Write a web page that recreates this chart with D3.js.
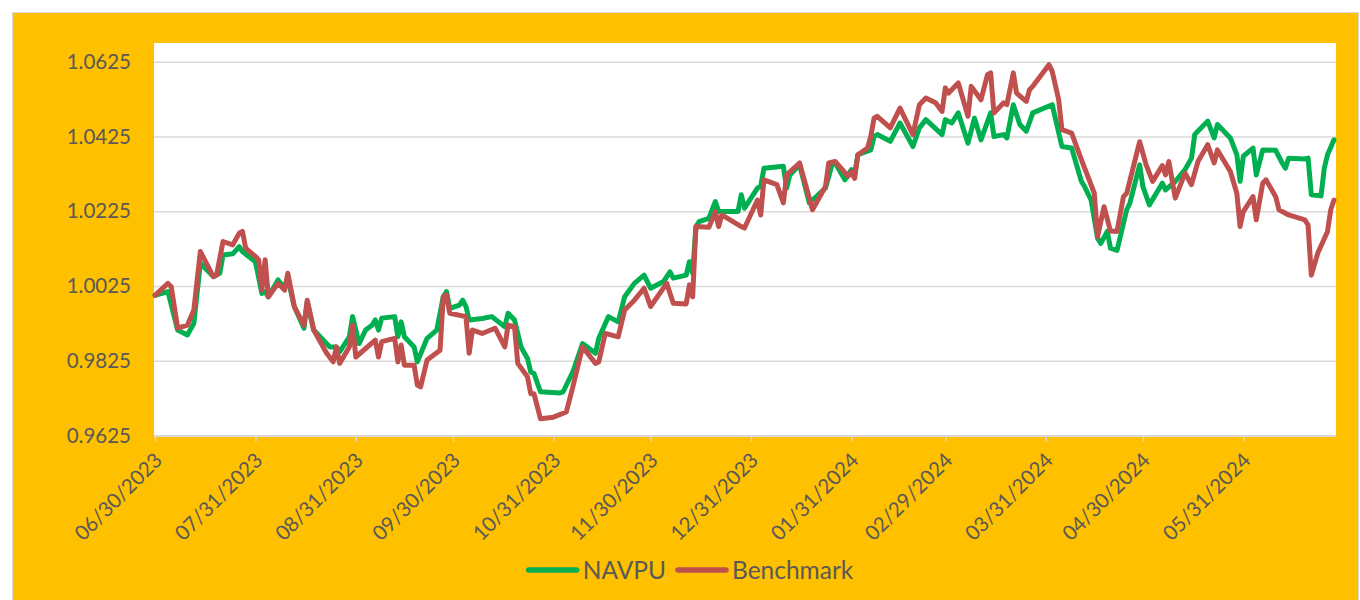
<!DOCTYPE html>
<html lang="en">

<head>
    <meta charset="UTF-8" />
    <script src="https://d3js.org/d3.v7.min.js"></script>
    <title>NAVPU vs Benchmark</title>
    <style>
        body {
            margin: 0;
            background: #fff;
        }

        svg {
            display: block;
            font-family: Lato, "Open Sans", sans-serif;
        }
    </style>
</head>

<body>
    <svg width="1360" height="600"></svg>
</body>
<script>
    // tick labels
    const xTickLabels = ["06/30/2023", "07/31/2023", "08/31/2023", "09/30/2023", "10/31/2023", "11/30/2023",
        "12/31/2023", "01/31/2024", "02/29/2024", "03/31/2024", "04/30/2024", "05/31/2024"]
    const yTicks = [0.9625, 0.9825, 1.0025, 1.0225, 1.0425, 1.0625]

    // NAVPU
    const navDates = [
        "2023-06-30", "2023-07-04", "2023-07-07", "2023-07-10", "2023-07-12", "2023-07-14", "2023-07-18", "2023-07-20", "2023-07-21", "2023-07-24", "2023-07-26", "2023-07-27", "2023-07-31",
        "2023-08-02", "2023-08-03", "2023-08-04", "2023-08-07", "2023-08-09", "2023-08-10", "2023-08-12", "2023-08-15", "2023-08-16", "2023-08-18", "2023-08-23", "2023-08-25", "2023-08-26", "2023-08-29", "2023-08-30",
        "2023-09-01", "2023-09-03", "2023-09-05", "2023-09-06", "2023-09-07", "2023-09-08", "2023-09-12", "2023-09-13", "2023-09-14", "2023-09-15", "2023-09-18", "2023-09-19", "2023-09-22", "2023-09-25", "2023-09-27", "2023-09-28", "2023-09-29",
        "2023-10-02", "2023-10-03", "2023-10-04", "2023-10-05", "2023-10-09", "2023-10-12", "2023-10-16", "2023-10-17", "2023-10-19", "2023-10-21", "2023-10-23", "2023-10-24", "2023-10-25", "2023-10-27",
        "2023-11-02", "2023-11-03", "2023-11-06", "2023-11-09", "2023-11-13", "2023-11-14", "2023-11-17", "2023-11-20", "2023-11-22", "2023-11-25", "2023-11-28", "2023-11-30",
        "2023-12-04", "2023-12-06", "2023-12-07", "2023-12-11", "2023-12-12", "2023-12-13", "2023-12-14", "2023-12-15", "2023-12-18", "2023-12-20", "2023-12-21", "2023-12-27", "2023-12-28", "2023-12-29",
        "2024-01-02", "2024-01-03", "2024-01-04", "2024-01-10", "2024-01-11", "2024-01-12", "2024-01-15", "2024-01-18", "2024-01-23", "2024-01-25", "2024-01-26", "2024-01-29", "2024-01-31",
        "2024-02-01", "2024-02-02", "2024-02-06", "2024-02-07", "2024-02-08", "2024-02-12", "2024-02-15", "2024-02-19", "2024-02-21", "2024-02-23", "2024-02-28", "2024-02-29",
        "2024-03-02", "2024-03-04", "2024-03-07", "2024-03-09", "2024-03-11", "2024-03-14", "2024-03-15", "2024-03-18", "2024-03-19", "2024-03-21", "2024-03-23", "2024-03-25", "2024-03-27",
        "2024-04-02", "2024-04-05", "2024-04-08", "2024-04-11", "2024-04-12", "2024-04-14", "2024-04-16", "2024-04-17", "2024-04-19", "2024-04-20", "2024-04-22", "2024-04-25", "2024-04-26", "2024-04-29", "2024-04-30",
        "2024-05-02", "2024-05-06", "2024-05-07", "2024-05-10", "2024-05-13", "2024-05-15", "2024-05-16", "2024-05-20", "2024-05-22", "2024-05-23", "2024-05-27", "2024-05-29", "2024-05-30", "2024-05-31",
        "2024-06-03", "2024-06-04", "2024-06-06", "2024-06-10", "2024-06-12", "2024-06-13", "2024-06-14", "2024-06-19", "2024-06-20", "2024-06-21", "2024-06-24", "2024-06-25", "2024-06-26", "2024-06-28"
    ]
    const navValues = [
        1.0000, 1.0010, 0.9907, 0.9894, 0.9925, 1.0086, 1.0050, 1.0059, 1.0108, 1.0111, 1.0130, 1.0117, 1.0090,
        1.0005, 1.0010, 0.9996, 1.0041, 1.0019, 1.0046, 0.9970, 0.9912, 0.9983, 0.9907, 0.9862, 0.9862, 0.9849, 0.9889, 0.9943,
        0.9871, 0.9907, 0.9920, 0.9934, 0.9907, 0.9939, 0.9943, 0.9889, 0.9929, 0.9889, 0.9862, 0.9822, 0.9885, 0.9907, 0.9996, 1.0010, 0.9965,
        0.9974, 0.9987, 0.9970, 0.9934, 0.9938, 0.9943, 0.9916, 0.9952, 0.9934, 0.9862, 0.9831, 0.9795, 0.9791, 0.9742,
        0.9739, 0.9742, 0.9795, 0.9871, 0.9845, 0.9885, 0.9943, 0.9929, 0.9996, 1.0032, 1.0054, 1.0019,
        1.0037, 1.0063, 1.0046, 1.0054, 1.0090, 1.0059, 1.0184, 1.0197, 1.0206, 1.0251, 1.0224, 1.0224, 1.0269, 1.0233,
        1.0287, 1.0291, 1.0340, 1.0345, 1.0287, 1.0322, 1.0349, 1.0247, 1.0287, 1.0349, 1.0354, 1.0309, 1.0336,
        1.0322, 1.0376, 1.0389, 1.0425, 1.0430, 1.0412, 1.0461, 1.0398, 1.0448, 1.0470, 1.0430, 1.0470,
        1.0461, 1.0488, 1.0407, 1.0474, 1.0416, 1.0488, 1.0425, 1.0430, 1.0421, 1.0510, 1.0457, 1.0439, 1.0488,
        1.0510, 1.0398, 1.0394, 1.0305, 1.0291, 1.0255, 1.0153, 1.0139, 1.0171, 1.0126, 1.0120, 1.0229, 1.0247, 1.0349, 1.0291,
        1.0242, 1.0300, 1.0282, 1.0305, 1.0336, 1.0367, 1.0430, 1.0466, 1.0421, 1.0457, 1.0421, 1.0376, 1.0305, 1.0372,
        1.0394, 1.0322, 1.0389, 1.0388, 1.0354, 1.0340, 1.0367, 1.0365, 1.0367, 1.0269, 1.0266, 1.0340, 1.0376, 1.0416
    ]

    // Benchmark
    const benchDates = [
        "2023-06-30", "2023-07-04", "2023-07-05", "2023-07-07", "2023-07-10", "2023-07-12", "2023-07-14", "2023-07-18", "2023-07-19", "2023-07-21", "2023-07-24", "2023-07-26", "2023-07-27", "2023-07-28", "2023-07-31",
        "2023-08-01", "2023-08-02", "2023-08-03", "2023-08-04", "2023-08-07", "2023-08-09", "2023-08-10", "2023-08-12", "2023-08-15", "2023-08-16", "2023-08-18", "2023-08-22", "2023-08-24", "2023-08-25", "2023-08-26", "2023-08-29", "2023-08-30", "2023-08-31",
        "2023-09-06", "2023-09-07", "2023-09-08", "2023-09-12", "2023-09-13", "2023-09-14", "2023-09-15", "2023-09-18", "2023-09-19", "2023-09-20", "2023-09-22", "2023-09-26", "2023-09-27", "2023-09-28", "2023-09-29",
        "2023-10-04", "2023-10-05", "2023-10-06", "2023-10-09", "2023-10-13", "2023-10-16", "2023-10-17", "2023-10-19", "2023-10-20", "2023-10-23", "2023-10-24", "2023-10-25", "2023-10-27", "2023-10-31",
        "2023-11-04", "2023-11-06", "2023-11-09", "2023-11-13", "2023-11-14", "2023-11-16", "2023-11-20", "2023-11-22", "2023-11-25", "2023-11-28", "2023-11-30",
        "2023-12-05", "2023-12-07", "2023-12-11", "2023-12-12", "2023-12-13", "2023-12-14", "2023-12-18", "2023-12-20", "2023-12-21", "2023-12-22", "2023-12-28", "2023-12-29",
        "2024-01-02", "2024-01-03", "2024-01-04", "2024-01-08", "2024-01-10", "2024-01-11", "2024-01-15", "2024-01-19", "2024-01-23", "2024-01-24", "2024-01-26", "2024-01-30", "2024-01-31",
        "2024-02-01", "2024-02-02", "2024-02-05", "2024-02-06", "2024-02-07", "2024-02-08", "2024-02-12", "2024-02-15", "2024-02-19", "2024-02-21", "2024-02-23", "2024-02-26", "2024-02-28", "2024-02-29",
        "2024-03-01", "2024-03-04", "2024-03-07", "2024-03-08", "2024-03-11", "2024-03-13", "2024-03-14", "2024-03-15", "2024-03-18", "2024-03-19", "2024-03-21", "2024-03-22", "2024-03-25", "2024-03-26", "2024-03-27",
        "2024-04-01", "2024-04-02", "2024-04-04", "2024-04-05", "2024-04-08", "2024-04-11", "2024-04-13", "2024-04-15", "2024-04-16", "2024-04-18", "2024-04-20", "2024-04-22", "2024-04-24", "2024-04-25", "2024-04-29",
        "2024-05-01", "2024-05-03", "2024-05-06", "2024-05-07", "2024-05-08", "2024-05-10", "2024-05-13", "2024-05-15", "2024-05-17", "2024-05-20", "2024-05-22", "2024-05-23", "2024-05-27", "2024-05-29", "2024-05-30", "2024-05-31",
        "2024-06-03", "2024-06-04", "2024-06-06", "2024-06-07", "2024-06-10", "2024-06-11", "2024-06-14", "2024-06-19", "2024-06-20", "2024-06-21", "2024-06-23", "2024-06-26", "2024-06-27", "2024-06-28"
    ]
    const benchValues = [
        1.0000, 1.0032, 1.0023, 0.9912, 0.9920, 0.9961, 1.0117, 1.0050, 1.0054, 1.0144, 1.0135, 1.0166, 1.0171, 1.0126, 1.0104,
        1.0095, 1.0014, 1.0095, 0.9996, 1.0032, 1.0014, 1.0059, 0.9970, 0.9920, 0.9987, 0.9907, 0.9845, 0.9822, 0.9862, 0.9818, 0.9862, 0.9920, 0.9835,
        0.9880, 0.9835, 0.9876, 0.9885, 0.9822, 0.9867, 0.9813, 0.9813, 0.9760, 0.9755, 0.9827, 0.9853, 0.9996, 1.0001, 0.9952,
        0.9943, 0.9845, 0.9907, 0.9898, 0.9912, 0.9862, 0.9920, 0.9916, 0.9818, 0.9782, 0.9737, 0.9737, 0.9670, 0.9674,
        0.9688, 0.9755, 0.9862, 0.9818, 0.9822, 0.9898, 0.9889, 0.9961, 0.9987, 1.0019, 0.9970,
        1.0032, 0.9979, 0.9977, 1.0028, 0.9996, 1.0184, 1.0182, 1.0224, 1.0184, 1.0215, 1.0184, 1.0180,
        1.0255, 1.0215, 1.0309, 1.0296, 1.0247, 1.0322, 1.0354, 1.0229, 1.0291, 1.0354, 1.0358, 1.0318, 1.0331,
        1.0313, 1.0376, 1.0394, 1.0425, 1.0474, 1.0479, 1.0448, 1.0501, 1.0430, 1.0510, 1.0528, 1.0515, 1.0492, 1.0555,
        1.0541, 1.0568, 1.0479, 1.0559, 1.0523, 1.0590, 1.0595, 1.0488, 1.0515, 1.0510, 1.0595, 1.0541, 1.0519, 1.0550, 1.0559,
        1.0617, 1.0599, 1.0523, 1.0443, 1.0434, 1.0363, 1.0318, 1.0273, 1.0157, 1.0237, 1.0172, 1.0171, 1.0264, 1.0273, 1.0411,
        1.0349, 1.0305, 1.0347, 1.0322, 1.0358, 1.0260, 1.0327, 1.0296, 1.0358, 1.0403, 1.0354, 1.0389, 1.0331, 1.0273, 1.0184, 1.0224,
        1.0264, 1.0202, 1.0300, 1.0309, 1.0264, 1.0229, 1.0215, 1.0202, 1.0188, 1.0054, 1.0113, 1.0171, 1.0229, 1.0255
    ]

    const width = 1360
    const height = 600
    const plot = { left: 154, right: 1336, top: 43, bottom: 435.5 }
    const textColor = "#595959"
    const gridColor = "#D9D9D9"

    const parseDate = d3.timeParse("%Y-%m-%d")
    const parseTick = d3.timeParse("%m/%d/%Y")

    const navData = navDates.map((d, i) => ({ date: parseDate(d), value: navValues[i] }))
    const benchData = benchDates.map((d, i) => ({ date: parseDate(d), value: benchValues[i] }))

    const x = d3.scaleTime().domain(d3.extent(navData, d => d.date)).range([plot.left + 1, plot.right - 2])
    // top of plot area sits a bit above the last gridline, as in the original
    const y = d3.scaleLinear().domain([0.9625, 1.0675]).range([plot.bottom, plot.top])

    const svg = d3.select("svg")

    // chart background + plot area
    svg.append("rect").attr("x", 12.5).attr("y", 12.5).attr("width", width - 14).attr("height", height)
        .attr("fill", "#FFC000").attr("stroke", gridColor).attr("stroke-width", 1)
    svg.append("rect").attr("x", plot.left).attr("y", plot.top)
        .attr("width", plot.right - plot.left).attr("height", plot.bottom - plot.top).attr("fill", "#fff")

    // y axis with gridlines
    const yAxis = g => g.attr("transform", `translate(${plot.left},0)`)
        .call(d3.axisLeft(y).tickValues(yTicks).tickFormat(d3.format(".4f"))
            .tickSize(-(plot.right - plot.left)).tickPadding(23))
        .call(g => g.select(".domain").remove())
        .call(g => g.selectAll(".tick line").attr("stroke", gridColor).attr("stroke-width", 1.5))
        .call(g => g.selectAll(".tick text").attr("fill", textColor).attr("font-size", 20.5)
            .attr("font-family", "Lato, 'Open Sans', sans-serif"))
    svg.append("g").call(yAxis)

    // x axis, rotated labels
    const xAxis = g => g.attr("transform", `translate(0,${plot.bottom})`)
        .call(d3.axisBottom(x).tickValues(xTickLabels.map(parseTick)).tickFormat(d3.timeFormat("%m/%d/%Y"))
            .tickSize(6).tickSizeOuter(0))
        .call(g => g.select(".domain").attr("stroke", gridColor).attr("stroke-width", 2))
        .call(g => g.selectAll(".tick line").attr("stroke", gridColor).attr("stroke-width", 1.5))
        .call(g => g.selectAll(".tick text").attr("fill", textColor).attr("font-size", 20.5)
            .attr("font-family", "Lato, 'Open Sans', sans-serif")
            .attr("text-anchor", "end").attr("y", 0).attr("dy", 0)
            .attr("transform", "translate(8,26) rotate(-45)"))
    svg.append("g").call(xAxis)

    // lines
    const line = d3.line().x(d => x(d.date)).y(d => y(d.value))
    const series = [
        { name: "NAVPU", data: navData, color: "#00B050" },
        { name: "Benchmark", data: benchData, color: "#C0504D" }
    ]
    svg.append("g").selectAll("path").data(series).enter().append("path")
        .attr("d", d => line(d.data))
        .attr("fill", "none")
        .attr("stroke", d => d.color)
        .attr("stroke-width", 5)
        .attr("stroke-linejoin", "round")
        .attr("stroke-linecap", "round")

    // legend
    const legend = svg.append("g")
    let lx = 0
    series.forEach((s, i) => {
        if (i > 0) lx += 9
        legend.append("line").attr("x1", lx + 3).attr("x2", lx + 51).attr("y1", 0).attr("y2", 0)
            .attr("stroke", s.color).attr("stroke-width", 5.5).attr("stroke-linecap", "round")
        const t = legend.append("text").attr("x", lx + 57).attr("y", 0).attr("dy", "0.35em")
            .attr("fill", textColor).attr("font-size", 24.5).text(s.name)
        lx += 57 + t.node().getComputedTextLength()
    })
    legend.attr("transform", `translate(${689.5 - lx / 2},570)`)
</script>

</html>
